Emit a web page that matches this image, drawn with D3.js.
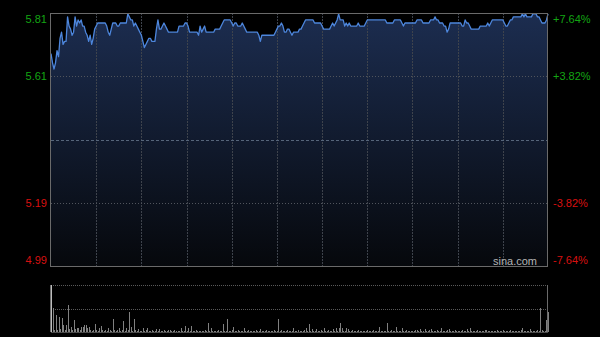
<!DOCTYPE html>
<html>
<head>
<meta charset="utf-8">
<script src="https://cdn.jsdelivr.net/npm/d3@7/dist/d3.min.js"></script>
<style>
  html, body { margin: 0; padding: 0; background: #000; }
  svg { display: block; }
</style>
</head>
<body>
<svg id="chart" width="600" height="337"></svg>
<script>
// previous close and the +/- range shown on the price axis
const prevClose = 5.40;
const rangePct = 0.0764;

const leftLabels = ["5.81", "5.61", "5.19", "4.99"];
const rightLabels = ["+7.64%", "+3.82%", "-3.82%", "-7.64%"];
const labelPcts = [0.0764, 0.0382, -0.0382, -0.0764];

// one price per minute, 09:30 - 16:00
const prices = [
  5.68,5.65,5.63,5.65,5.69,5.67,5.73,5.75,5.71,5.72,5.72,5.80,5.77,5.76,5.74,5.75,5.80,5.77,5.79,5.78,
  5.79,5.77,5.77,5.75,5.74,5.72,5.74,5.71,5.73,5.76,5.77,5.78,5.78,5.78,5.78,5.78,5.78,5.77,5.75,5.74,
  5.76,5.78,5.78,5.78,5.77,5.77,5.78,5.78,5.78,5.78,5.78,5.81,5.80,5.79,5.79,5.77,5.78,5.77,5.76,5.75,
  5.74,5.72,5.70,5.71,5.72,5.73,5.73,5.72,5.72,5.72,5.76,5.79,5.76,5.76,5.77,5.78,5.77,5.76,5.75,5.75,
  5.75,5.75,5.75,5.75,5.75,5.77,5.77,5.77,5.77,5.78,5.78,5.77,5.75,5.75,5.75,5.75,5.75,5.75,5.74,5.77,
  5.75,5.76,5.77,5.75,5.75,5.75,5.75,5.75,5.75,5.76,5.76,5.76,5.76,5.77,5.78,5.79,5.79,5.79,5.79,5.79,
  5.78,5.77,5.78,5.78,5.77,5.77,5.77,5.78,5.77,5.76,5.75,5.75,5.75,5.75,5.75,5.75,5.75,5.75,5.74,5.72,
  5.74,5.74,5.74,5.74,5.74,5.74,5.74,5.74,5.74,5.75,5.76,5.77,5.77,5.78,5.77,5.75,5.75,5.76,5.76,5.75,
  5.74,5.75,5.75,5.75,5.75,5.76,5.76,5.77,5.78,5.79,5.79,5.79,5.79,5.79,5.79,5.78,5.78,5.78,5.78,5.78,
  5.77,5.76,5.76,5.76,5.76,5.76,5.77,5.78,5.77,5.78,5.79,5.81,5.79,5.79,5.79,5.77,5.78,5.77,5.78,5.77,
  5.77,5.77,5.77,5.77,5.78,5.77,5.77,5.77,5.77,5.78,5.79,5.79,5.79,5.79,5.79,5.79,5.79,5.79,5.79,5.79,
  5.79,5.79,5.79,5.78,5.78,5.78,5.78,5.78,5.79,5.79,5.79,5.79,5.79,5.78,5.77,5.78,5.78,5.78,5.78,5.78,
  5.78,5.78,5.78,5.79,5.79,5.79,5.79,5.78,5.78,5.78,5.78,5.78,5.79,5.79,5.79,5.80,5.79,5.79,5.78,5.78,
  5.78,5.77,5.77,5.75,5.76,5.78,5.78,5.78,5.78,5.78,5.78,5.78,5.78,5.77,5.77,5.79,5.78,5.78,5.77,5.76,
  5.76,5.76,5.76,5.76,5.76,5.77,5.77,5.77,5.77,5.77,5.78,5.77,5.78,5.79,5.79,5.79,5.79,5.79,5.79,5.79,
  5.79,5.78,5.77,5.77,5.78,5.79,5.79,5.80,5.80,5.80,5.80,5.80,5.80,5.81,5.80,5.81,5.80,5.80,5.80,5.80,
  5.81,5.81,5.81,5.80,5.80,5.79,5.78,5.78,5.78,5.79,5.81
];

// volume per minute (thousand shares)
const volumes = [
  470,240,20,170,20,150,30,140,70,20,70,270,30,50,20,120,30,40,40,20,
  50,50,70,70,40,50,20,10,20,80,20,10,40,60,20,10,20,10,40,20,
  10,130,20,10,20,40,10,20,110,10,40,20,200,50,10,130,20,10,30,10,
  10,40,10,20,40,10,10,20,10,10,30,10,30,10,10,20,10,10,20,20,
  10,10,20,10,10,10,40,10,10,60,10,40,10,60,10,10,20,10,10,10,
  10,10,20,10,90,10,40,10,10,10,10,20,10,10,80,10,10,130,10,10,
  20,50,10,10,20,10,10,10,40,10,10,20,10,10,10,10,20,10,10,30,
  10,10,10,20,10,10,10,10,20,10,10,130,10,20,10,10,10,20,10,10,
  10,40,10,10,20,10,10,10,20,40,10,80,10,30,10,10,30,10,10,20,
  10,40,10,10,20,10,10,30,10,40,10,40,90,40,10,10,40,30,10,10,
  20,10,10,10,20,10,10,10,10,10,20,10,10,10,20,10,10,10,50,10,
  10,10,10,90,10,10,20,10,10,50,10,10,10,40,10,10,20,10,10,10,
  10,10,20,20,10,30,10,10,30,10,10,20,30,10,10,10,20,10,10,40,
  10,10,10,20,30,10,10,10,20,10,10,10,10,20,10,10,30,10,40,10,
  10,10,10,20,10,10,10,10,20,20,10,10,10,10,10,10,20,10,10,10,
  20,10,10,10,10,20,10,10,10,10,10,10,20,40,10,10,10,10,30,10,
  10,10,10,20,10,240,20,10,10,120,200
];

const svg = d3.select("#chart");
const plot = {left: 51, right: 548, top: 13, bottom: 266};
const vol = {top: 285, bottom: 332};

const x = d3.scaleLinear().domain([0, prices.length - 1]).range([plot.left, plot.right]);
const y = d3.scaleLinear()
    .domain([prevClose * (1 - rangePct), prevClose * (1 + rangePct)])
    .range([plot.bottom, plot.top]);
const yVol = d3.scaleLinear().domain([0, d3.max(volumes)]).range([vol.bottom, vol.top]);

const defs = svg.append("defs");
const grad = defs.append("linearGradient")
    .attr("id", "areaFill")
    .attr("gradientUnits", "userSpaceOnUse")
    .attr("x1", 0).attr("y1", plot.top)
    .attr("x2", 0).attr("y2", plot.bottom);
grad.append("stop").attr("offset", "0%").attr("stop-color", "#1c2d50");
grad.append("stop").attr("offset", "100%").attr("stop-color", "#06080c");

// area under the price line
const area = d3.area()
    .x((d, i) => x(i))
    .y0(plot.bottom)
    .y1(d => y(d));
svg.append("path")
    .attr("d", area(prices))
    .attr("fill", "url(#areaFill)");

// vertical grid, one every 30 minutes
const vTicks = d3.range(30, prices.length - 1, 30);
svg.selectAll(".vgrid")
    .data(vTicks)
    .enter().append("line")
    .attr("class", "vgrid")
    .attr("x1", d => Math.round(x(d)) + 0.5)
    .attr("x2", d => Math.round(x(d)) + 0.5)
    .attr("y1", plot.top)
    .attr("y2", plot.bottom)
    .attr("stroke", "#3e434c")
    .attr("stroke-dasharray", "2,1");

// horizontal grid
[0.0382, -0.0382].forEach(p => {
    const yy = Math.round(y(prevClose * (1 + p))) + 0.5;
    svg.append("line")
        .attr("x1", plot.left).attr("x2", plot.right)
        .attr("y1", yy).attr("y2", yy)
        .attr("stroke", "#50545c")
        .attr("stroke-dasharray", "1,2");
});
const yMid = Math.round(y(prevClose)) + 0.5;
svg.append("line")
    .attr("x1", plot.left).attr("x2", plot.right)
    .attr("y1", yMid).attr("y2", yMid)
    .attr("stroke", "#56657a")
    .attr("stroke-dasharray", "3,2");

// price line
const line = d3.line()
    .x((d, i) => x(i))
    .y(d => y(d));
svg.append("path")
    .attr("d", line(prices))
    .attr("fill", "none")
    .attr("stroke", "#4d86dc")
    .attr("stroke-width", 1.3)
    .attr("stroke-linejoin", "round");

// frame
svg.append("rect")
    .attr("x", plot.left - 0.5)
    .attr("y", plot.top + 0.5)
    .attr("width", plot.right - plot.left)
    .attr("height", plot.bottom - plot.top)
    .attr("fill", "none")
    .attr("stroke", "#6a6a6a");

// axis labels
leftLabels.forEach((t, i) => {
    const off = i === 0 ? 6 : (i === leftLabels.length - 1 ? -6 : 0);
    svg.append("text")
        .attr("x", 47)
        .attr("y", y(prevClose * (1 + labelPcts[i])) + off)
        .attr("dy", "0.35em")
        .attr("text-anchor", "end")
        .style("font-family", "'Liberation Sans', Arial, sans-serif")
        .style("font-size", "11px")
        .attr("fill", labelPcts[i] > 0 ? "#13a513" : "#d81010")
        .text(t);
});
rightLabels.forEach((t, i) => {
    const off = i === 0 ? 6 : (i === rightLabels.length - 1 ? -6 : 0);
    svg.append("text")
        .attr("x", 553)
        .attr("y", y(prevClose * (1 + labelPcts[i])) + off)
        .attr("dy", "0.35em")
        .attr("text-anchor", "start")
        .style("font-family", "'Liberation Sans', Arial, sans-serif")
        .style("font-size", "11px")
        .attr("fill", labelPcts[i] > 0 ? "#13a513" : "#d81010")
        .text(t);
});

svg.append("text")
    .attr("x", 537)
    .attr("y", 265)
    .attr("text-anchor", "end")
    .style("font-family", "'Liberation Sans', Arial, sans-serif")
    .style("font-size", "11px")
    .attr("fill", "#b4b4b4")
    .text("sina.com");

// volume panel
[vol.top, (vol.top + vol.bottom) / 2].forEach(v => {
    const yy = Math.round(v) + 0.5;
    svg.append("line")
        .attr("x1", plot.left).attr("x2", plot.right)
        .attr("y1", yy).attr("y2", yy)
        .attr("stroke", "#5a5a5a")
        .attr("stroke-dasharray", "1,1");
});

svg.selectAll(".vbar")
    .data(volumes)
    .enter().append("rect")
    .attr("class", "vbar")
    .attr("x", (d, i) => Math.round(x(i)))
    .attr("width", 1)
    .attr("y", d => yVol(d))
    .attr("height", d => vol.bottom - yVol(d))
    .attr("fill", (d, i) => i === 0 ? "#bdbdbd" : "#808080");

svg.append("line")
    .attr("x1", plot.left - 0.5).attr("x2", plot.left - 0.5)
    .attr("y1", vol.top).attr("y2", vol.bottom)
    .attr("stroke", "#6a6a6a");
svg.append("line")
    .attr("x1", plot.right - 0.5).attr("x2", plot.right - 0.5)
    .attr("y1", vol.top).attr("y2", vol.bottom)
    .attr("stroke", "#6a6a6a");
svg.append("line")
    .attr("x1", plot.left).attr("x2", plot.right)
    .attr("y1", vol.bottom + 0.5).attr("y2", vol.bottom + 0.5)
    .attr("stroke", "#4a4a4a");
</script>
</body>
</html>
